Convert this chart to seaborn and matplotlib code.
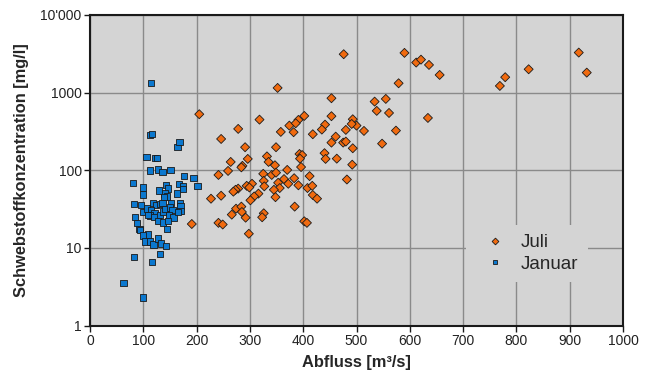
import pandas as pd
import seaborn as sns
import matplotlib
matplotlib.use('Agg')
import matplotlib.pyplot as plt
from matplotlib.ticker import FixedLocator, NullLocator

# Juli: discharge [m3/s] and suspended sediment concentration [mg/l]
juli_abfluss = [352, 453, 534, 555, 538, 561, 205, 318, 278, 246,
                374, 391, 402, 386, 358, 382, 453, 441, 435, 418,
                493, 500, 491, 480, 514, 461, 453, 475, 480, 548,
                493, 440, 442, 463, 492, 482, 291, 349, 264, 296,
                286, 284, 332, 335, 347, 393, 398, 394, 396, 370,
                241, 259, 325, 341, 349, 412, 383, 364, 353, 372,
                391, 326, 327, 356, 345, 304, 294, 299, 278, 273,
                269, 246, 227, 316, 308, 301, 348, 408, 417, 418,
                426, 384, 274, 284, 285, 292, 266, 326, 323, 241,
                249, 402, 407, 298, 191,
                612, 621, 636, 656, 579, 634, 574, 769, 779, 823, 917, 932, 476, 590]
juli_konz = [1150, 847, 766, 830, 582, 547, 527, 449, 341, 253,
             376, 445, 501, 403, 312, 309, 497, 387, 334, 291,
             454, 376, 395, 331, 321, 271, 227, 227, 234, 220,
             192, 166, 140, 141, 118, 76, 198, 198, 128, 140,
             114, 109, 151, 128, 116, 162, 157, 141, 110, 101,
             87, 98, 90, 87, 93, 84, 79, 77, 69, 67,
             64, 73, 62, 59, 56, 67, 63, 60, 58, 56,
             53, 47, 43, 50, 46, 41, 45, 59, 63, 48,
             43, 34, 32, 34, 29, 24.5, 26.8, 27.9, 24.8, 21,
             20, 22, 21, 15.2, 20.3,
             2440, 2660, 2275, 1690, 1320, 472, 324, 1220, 1580, 2000, 3280, 1810, 3125, 3250]

# Januar
januar_abfluss = [114, 112, 116, 164, 168, 106, 122, 126, 113, 128,
                  136, 151, 176, 194, 202, 81, 99, 99, 142, 146,
                  140, 145, 167, 174, 175, 163, 129, 139, 82, 96,
                  118, 124, 131, 136, 152, 169, 170, 99, 107, 115,
                  121, 113, 121, 131, 137, 141, 150, 155, 148, 157,
                  170, 165, 128, 137, 146, 145, 93, 84, 88, 94,
                  109, 99, 104, 113, 119, 127, 133, 143, 131, 82,
                  116, 63, 99, 109]
januar_konz = [1330, 282, 294, 200, 230, 148, 143, 145, 99, 102,
               95, 100, 85, 79, 63, 69, 60, 48.5, 64, 58,
               50, 46, 66, 63, 57, 50, 55, 45, 37, 36,
               38, 35.5, 37, 38, 37.5, 38, 34.4, 29, 32, 30.7,
               28, 26, 25, 26.5, 29.3, 31.4, 33, 30.7, 26, 24.5,
               30, 29, 22.4, 21.3, 22.4, 17.5, 17.5, 25, 21, 17,
               14.8, 14.5, 12.1, 12.1, 11, 13.2, 11.4, 10.6, 8.4, 7.6,
               6.6, 3.5, 2.3, 26.5]

x_ticks = [0, 100, 200, 300, 400, 500, 600, 700, 800, 900, 1000]
y_ticks = [1, 10, 100, 1000, 10000]
y_ticklabels = ['1', '10', '100', '1000', "10'000"]

df = pd.concat([
    pd.DataFrame({'Abfluss': juli_abfluss, 'Konz': juli_konz, 'Monat': 'Juli'}),
    pd.DataFrame({'Abfluss': januar_abfluss, 'Konz': januar_konz, 'Monat': 'Januar'}),
], ignore_index=True)

sns.set_style('white')
plt.rcParams['font.family'] = ['Liberation Sans', 'DejaVu Sans']

fig = plt.figure(figsize=(6.48, 3.76), dpi=100)
ax = fig.add_axes([90 / 648, 1 - 325.5 / 376, 533 / 648, 310.5 / 376])
ax.set_facecolor('#d4d4d4')

sns.scatterplot(data=df, x='Abfluss', y='Konz', hue='Monat', style='Monat',
                palette={'Juli': '#f06a0f', 'Januar': '#0b78cf'},
                markers={'Juli': 'D', 'Januar': 's'},
                s=21, edgecolor='#1a1a1a', linewidth=0.6, ax=ax, zorder=3)

ax.set_yscale('log')
ax.set_xlim(0, 1000)
ax.set_ylim(1, 10000)
ax.xaxis.set_major_locator(FixedLocator(x_ticks))
ax.yaxis.set_major_locator(FixedLocator(y_ticks))
ax.yaxis.set_minor_locator(NullLocator())
ax.set_yticklabels(y_ticklabels)
ax.grid(True, which='major', color='#8a8a8a', linewidth=1)
ax.set_axisbelow(True)
for sp in ax.spines.values():
    sp.set_visible(True)
    sp.set_color('#1a1a1a')
    sp.set_linewidth(1.5)
ax.tick_params(axis='both', which='major', direction='out', length=4, width=1,
               color='#1a1a1a', labelsize=10, labelcolor='#222222', pad=2, left=True, bottom=True)

ax.set_xlabel('Abfluss [m³/s]', fontsize=11.75, fontweight='bold', labelpad=5)
ax.set_ylabel('Schwebstoffkonzentration [mg/l]', fontsize=11.75, fontweight='bold', labelpad=8)

leg = ax.legend(loc='center', bbox_to_anchor=(0.82, 0.232), frameon=True, fontsize=13.5,
                facecolor='#d4d4d4', edgecolor='none', framealpha=1,
                handletextpad=0.4, markerscale=0.75, borderpad=0.5, labelspacing=0.25)
leg.get_frame().set_linewidth(0)

fig.savefig('out.png', dpi=100)
